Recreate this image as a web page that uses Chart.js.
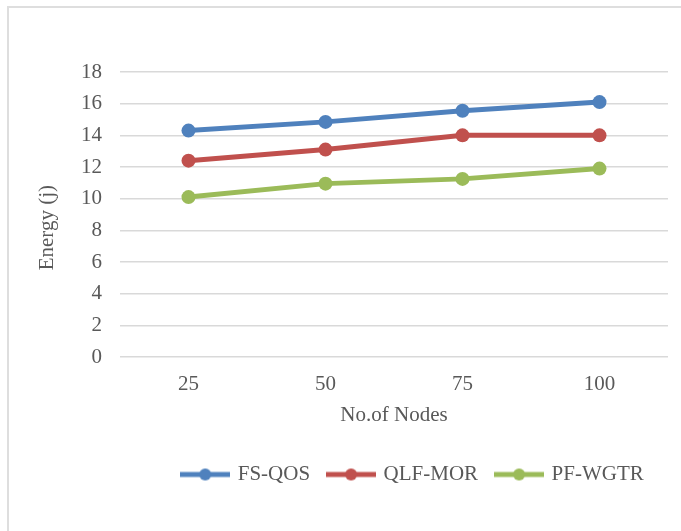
<!doctype html>
<html lang="en">
  <head>
    <meta charset="utf-8">
    <title>Energy vs No.of Nodes</title>
    <script src="https://cdn.jsdelivr.net/npm/chart.js"></script>
    <style>
      html, body { margin: 0; padding: 0; background: #fff; overflow: hidden; }
      #frame { position: absolute; left: 7px; top: 6px; width: 900px; height: 700px; border: 2px solid #dedede; }
      #wrap { position: absolute; left: 0; top: 0; }
    </style>
  </head>
  <body>
    <div id="frame"></div>
    <div id="wrap">
      <canvas id="myChart" width="827" height="531"></canvas>
    </div>

    <script>
        // data
        const nodes = ['25', '50', '75', '100'];
        const fsQos = [14.3, 14.85, 15.55, 16.1];
        const qlfMor = [12.4, 13.1, 14.0, 14.0];
        const pfWgtr = [10.1, 10.95, 11.25, 11.9];
        const seriesNames = ['FS-QOS', 'QLF-MOR', 'PF-WGTR'];
        const seriesColors = ['#4f81bd', '#c0504d', '#9bbb59'];

        const fontFamily = "'Liberation Serif', 'Times New Roman', serif";
        const textColor = '#595959';
        const fontSize = 21;

        // legend marker: short thick line with a dot in the middle
        function legendMarker(color) {
            const c = document.createElement('canvas');
            c.width = 50;
            c.height = 16;
            const g = c.getContext('2d');
            g.strokeStyle = color;
            g.lineWidth = 5;
            g.beginPath();
            g.moveTo(0, 8);
            g.lineTo(50, 8);
            g.stroke();
            g.fillStyle = color;
            g.beginPath();
            g.arc(25, 8, 6, 0, Math.PI * 2);
            g.fill();
            return c;
        }

        function makeSet(i, values) {
            return {
                label: seriesNames[i],
                data: values,
                borderColor: seriesColors[i],
                backgroundColor: seriesColors[i],
                pointBackgroundColor: seriesColors[i],
                pointBorderWidth: 0,
                pointRadius: 7,
                pointHoverRadius: 7,
                pointStyle: 'circle',
                borderWidth: 5,
                tension: 0
            };
        }

        const data = {
            labels: nodes,
            datasets: [makeSet(0, fsQos), makeSet(1, qlfMor), makeSet(2, pfWgtr)]
        };

        const config = {
            type: 'line',
            data,
            options: {
                responsive: false,
                animation: false,
                devicePixelRatio: 1,
                layout: { padding: { top: 72, right: 0, bottom: 36, left: 0 } },
                plugins: {
                    tooltip: { enabled: false },
                    legend: {
                        position: 'bottom',
                        labels: {
                            usePointStyle: true,
                            pointStyleWidth: 44,
                            padding: 19,
                            color: textColor,
                            font: { family: fontFamily, size: fontSize },
                            generateLabels(chart) {
                                return chart.data.datasets.map((ds, i) => ({
                                    text: ds.label,
                                    fillStyle: ds.borderColor,
                                    strokeStyle: ds.borderColor,
                                    lineWidth: 0,
                                    pointStyle: legendMarker(ds.borderColor),
                                    fontColor: textColor,
                                    hidden: false,
                                    datasetIndex: i
                                }));
                            }
                        }
                    }
                },
                scales: {
                    x: {
                        offset: true,
                        grid: { display: false, drawTicks: false },
                        border: { display: false },
                        ticks: { color: textColor, padding: 15, font: { family: fontFamily, size: fontSize } },
                        title: {
                            display: true,
                            text: 'No.of Nodes',
                            color: textColor,
                            font: { family: fontFamily, size: fontSize },
                            padding: { top: 0, bottom: 17 }
                        },
                        afterFit(scale) { scale.height = 88; }
                    },
                    y: {
                        min: 0,
                        max: 18,
                        ticks: { stepSize: 2, color: textColor, padding: 18, font: { family: fontFamily, size: fontSize } },
                        grid: { color: '#d9d9d9', lineWidth: 1.5, drawTicks: false },
                        border: { display: false },
                        title: {
                            display: true,
                            // trailing spaces push the centred title a little lower, as in the original
                            text: 'Energy (j)\u00a0\u00a0\u00a0\u00a0\u00a0',
                            color: textColor,
                            font: { family: fontFamily, size: fontSize },
                            padding: { top: 35, bottom: 0 }
                        },
                        afterFit(scale) { scale.width = 120; }
                    },
                    // empty spacer on the right so the legend centres like the original
                    spacer: {
                        type: 'linear',
                        position: 'right',
                        grid: { display: false },
                        border: { display: false },
                        ticks: { display: false },
                        afterFit(scale) { scale.width = 159; }
                    }
                }
            }
        };

        const myChart = new Chart(document.getElementById('myChart'), config);
    </script>
  </body>
</html>
